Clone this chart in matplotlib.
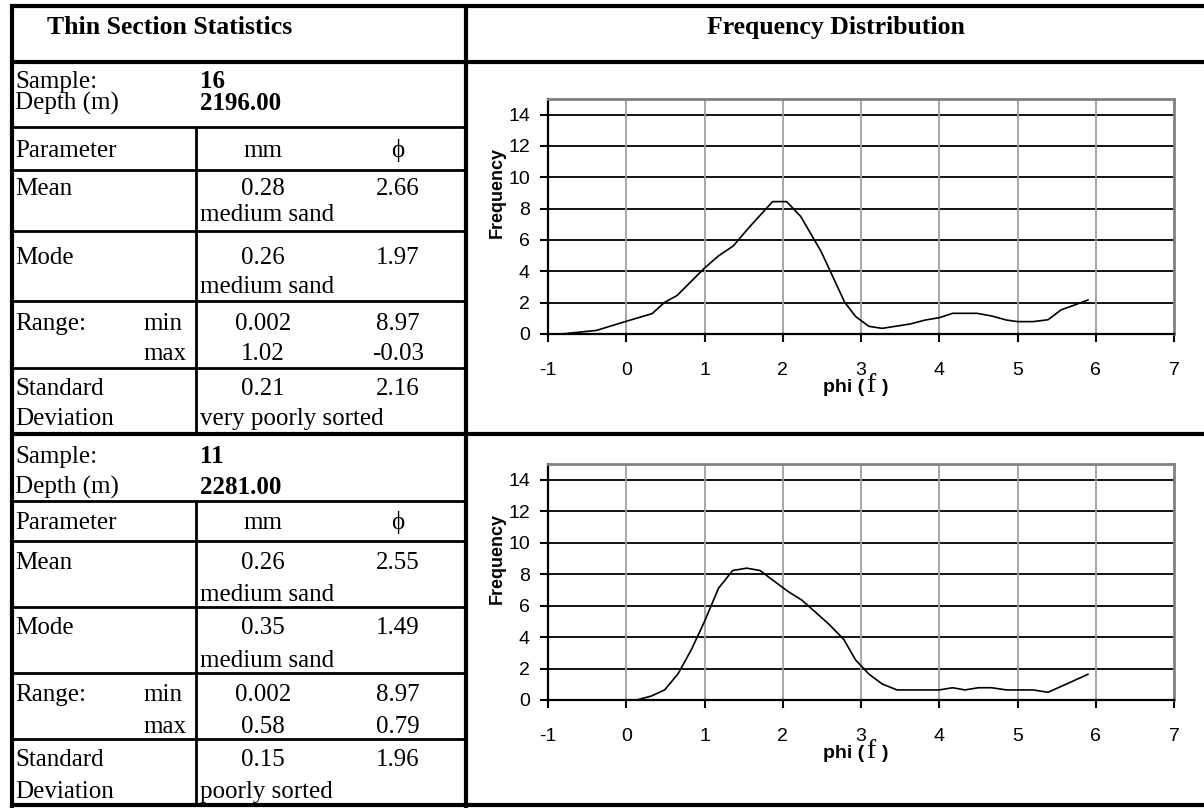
import matplotlib
matplotlib.use("Agg")
import matplotlib.pyplot as plt

# ---------------- data ----------------
samples = ["16", "11"]
depths = ["2196.00", "2281.00"]
mean_mm = ["0.28", "0.26"]
mean_phi = ["2.66", "2.55"]
mean_class = ["medium sand", "medium sand"]
mode_mm = ["0.26", "0.35"]
mode_phi = ["1.97", "1.49"]
mode_class = ["medium sand", "medium sand"]
min_mm = ["0.002", "0.002"]
min_phi = ["8.97", "8.97"]
max_mm = ["1.02", "0.58"]
max_phi = ["-0.03", "0.79"]
std_mm = ["0.21", "0.15"]
std_phi = ["2.16", "1.96"]
sorting = ["very poorly sorted", "poorly sorted"]

phi_1 = [-0.83, -0.38, 0.0, 0.33, 0.49, 0.65, 1.0, 1.18, 1.37, 1.56, 1.87, 2.05,
         2.23, 2.49, 2.79, 2.93, 3.1, 3.27, 3.63, 3.82, 4.0, 4.17, 4.48, 4.67,
         4.86, 5.0, 5.2, 5.39, 5.56, 5.73, 5.9]
freq_1 = [0.0, 0.23, 0.81, 1.30, 2.02, 2.46, 4.21, 4.99, 5.63, 6.75, 8.45, 8.45,
          7.5, 5.27, 2.04, 1.12, 0.49, 0.36, 0.64, 0.89, 1.04, 1.32, 1.32, 1.15,
          0.89, 0.79, 0.79, 0.91, 1.55, 1.85, 2.17]

phi_2 = [0.13, 0.32, 0.49, 0.66, 0.83, 1.0, 1.18, 1.36, 1.54, 1.71, 1.88, 2.07,
         2.24, 2.41, 2.6, 2.78, 2.93, 3.1, 3.27, 3.46, 4.0, 4.17, 4.33, 4.5,
         4.67, 4.86, 5.2, 5.39, 5.9]
freq_2 = [0.0, 0.25, 0.64, 1.65, 3.18, 4.99, 7.11, 8.23, 8.38, 8.23, 7.59, 6.89,
          6.36, 5.62, 4.77, 3.85, 2.55, 1.65, 1.02, 0.64, 0.64, 0.78, 0.64, 0.78,
          0.78, 0.64, 0.64, 0.49, 1.63]

x_ticks = [-1, 0, 1, 2, 3, 4, 5, 6, 7]
y_ticks = [0, 2, 4, 6, 8, 10, 12, 14]

# ---------------- figure ----------------
W, H = 1204, 808
fig = plt.figure(figsize=(W / 100, H / 100), dpi=100)
fig.patch.set_facecolor("white")

ov = fig.add_axes([0, 0, 1, 1])
ov.set_xlim(0, W)
ov.set_ylim(H, 0)
ov.axis("off")
ov.patch.set_visible(False)

SERIF = ["Liberation Serif", "DejaVu Serif"]
SANS = ["Liberation Sans", "DejaVu Sans"]
THICK = 3.0
THIN = 2.0

def hline(y, x0, x1, lw):
    ov.plot([x0, x1], [y, y], color="black", lw=lw, solid_capstyle="butt")

def vline(x, y0, y1, lw):
    ov.plot([x, x], [y0, y1], color="black", lw=lw, solid_capstyle="butt")

# outer frame / main dividers
hline(6, 10, W, THICK)
hline(62, 10, W, THICK)
hline(434, 10, W, THICK)
hline(805, 10, W, THICK)
vline(12, 4, 808, THICK)
vline(466, 4, 808, THICK)

# header
ov.text(47, 34, "Thin Section Statistics", family=SERIF, weight="bold",
        fontsize=18.5, ha="left", va="baseline")
ov.text(836, 34, "Frequency Distribution", family=SERIF, weight="bold",
        fontsize=18.5, ha="center", va="baseline")

panel_rows = [
    dict(sample=88, depth=110, param=157, mean=195, mean2=221, mode=264,
         mode2=293, rmin=330, rmax=360, std=395, dev=425,
         lines=[127, 170, 231, 301, 368], top=127, bot=434),
    dict(sample=463, depth=494, param=529, mean=569, mean2=601, mode=634,
         mode2=667, rmin=701, rmax=733, std=766, dev=798,
         lines=[501, 541, 607, 673, 739], top=501, bot=805),
]

FS = 18
XL, XV, XC2, XC3, XMM = 15, 200, 263, 398, 143

def t(x, y, s, ha="left", bold=False):
    ov.text(x, y, s, family=SERIF, fontsize=FS, ha=ha, va="baseline",
            weight="bold" if bold else "normal")

for i, r in enumerate(panel_rows):
    for y in r["lines"]:
        hline(y, 12, 466, THIN)
    vline(196, r["top"], r["bot"], THIN)
    t(XL, r["sample"], "Sample:")
    t(XV, r["sample"], samples[i], bold=True)
    t(XL, r["depth"], "Depth (m)")
    t(XV, r["depth"], depths[i], bold=True)
    t(XL, r["param"], "Parameter")
    t(XC2, r["param"], "mm", ha="center")
    t(XC3, r["param"], "\u03d5", ha="center")
    t(XL, r["mean"], "Mean")
    t(XC2, r["mean"], mean_mm[i], ha="center")
    t(XC3, r["mean"], mean_phi[i], ha="center")
    t(XV, r["mean2"], mean_class[i])
    t(XL, r["mode"], "Mode")
    t(XC2, r["mode"], mode_mm[i], ha="center")
    t(XC3, r["mode"], mode_phi[i], ha="center")
    t(XV, r["mode2"], mode_class[i])
    t(XL, r["rmin"], "Range:")
    t(XMM, r["rmin"], "min")
    t(XC2, r["rmin"], min_mm[i], ha="center")
    t(XC3, r["rmin"], min_phi[i], ha="center")
    t(XMM, r["rmax"], "max")
    t(XC2, r["rmax"], max_mm[i], ha="center")
    t(XC3, r["rmax"], max_phi[i], ha="center")
    t(XL, r["std"], "Standard")
    t(XC2, r["std"], std_mm[i], ha="center")
    t(XC3, r["std"], std_phi[i], ha="center")
    t(XL, r["dev"], "Deviation")
    t(XV, r["dev"], sorting[i])

# ---------------- charts ----------------
chart_boxes = [(548, 99, 1174, 334), (548, 464, 1174, 700)]
series = [(phi_1, freq_1), (phi_2, freq_2)]

for (x0, y0, x1, y1), (px, fy) in zip(chart_boxes, series):
    ax = fig.add_axes([x0 / W, (H - y1) / H, (x1 - x0) / W, (y1 - y0) / H])
    ax.set_xlim(-1, 7)
    ax.set_ylim(0, 15)
    ax.set_xticks(x_ticks)
    ax.set_yticks(y_ticks)
    ax.set_xticklabels([str(v) for v in x_ticks], family=SANS, fontsize=14)
    ax.set_yticklabels([str(v) for v in y_ticks], family=SANS, fontsize=14)
    ax.tick_params(axis="x", direction="out", length=6, width=1.5, pad=14)
    ax.tick_params(axis="y", direction="out", length=6, width=1.5, pad=7)
    for v in y_ticks[1:]:
        ax.axhline(v, color="black", lw=1.3, zorder=1)
    for v in x_ticks[1:-1]:
        ax.axvline(v, color="#a0a0a0", lw=1.3, zorder=1)
    ax.spines["left"].set_color("black")
    ax.spines["bottom"].set_color("black")
    ax.spines["left"].set_linewidth(1.6)
    ax.spines["bottom"].set_linewidth(1.6)
    ax.spines["top"].set_color("#808080")
    ax.spines["right"].set_color("#808080")
    ax.spines["top"].set_linewidth(2.0)
    ax.spines["right"].set_linewidth(2.0)
    ax.plot(px, fy, color="black", lw=1.2, zorder=3)
    ax.text(-0.081, 0.6, "Frequency", transform=ax.transAxes, rotation=90,
            ha="center", va="center", family=SANS, weight="bold", fontsize=13)
    # x-axis label pieces
    by = y1 + 58
    ov.text(864, by, "phi (", family=SANS, weight="bold", fontsize=14,
            ha="right", va="baseline")
    ov.text(866, by, "f", family=SERIF, fontsize=20, ha="left", va="baseline")
    ov.text(882, by, ")", family=SANS, weight="bold", fontsize=14,
            ha="left", va="baseline")

fig.savefig("out.png", dpi=100, facecolor="white")
